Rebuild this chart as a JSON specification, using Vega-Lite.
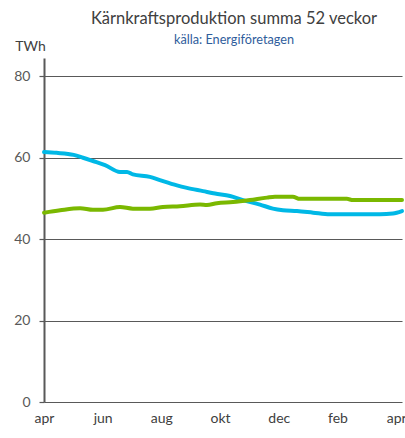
{
  "$schema": "https://vega.github.io/schema/vega-lite/v6.json",
  "autosize": "none",
  "width": 358,
  "height": 344,
  "padding": {"left": 44, "top": 58, "right": 3, "bottom": 36},
  "background": "white",
  "config": {"view": {"stroke": null}, "font": "Lato"},
  "title": {
    "text": "Kärnkraftsproduktion summa 52 veckor",
    "subtitle": "källa: Energiföretagen",
    "anchor": "middle",
    "dx": 11,
    "offset": -8,
    "fontSize": 16.5,
    "fontWeight": "normal",
    "color": "#404040",
    "subtitleFontSize": 12.7,
    "subtitleColor": "#2f5d9c",
    "subtitlePadding": 7,
    "font": "Lato",
    "subtitleFont": "Lato"
  },
  "data": {
    "values": [
      {"m": 0, "s": "blue", "v": 61.4},
      {"m": 0.43, "s": "blue", "v": 61.2},
      {"m": 1.01, "s": "blue", "v": 60.7},
      {"m": 1.33, "s": "blue", "v": 60.0},
      {"m": 1.67, "s": "blue", "v": 59.2},
      {"m": 2.08, "s": "blue", "v": 58.2},
      {"m": 2.59, "s": "blue", "v": 56.5},
      {"m": 2.83, "s": "blue", "v": 56.5},
      {"m": 3.03, "s": "blue", "v": 55.9},
      {"m": 3.61, "s": "blue", "v": 55.3},
      {"m": 3.95, "s": "blue", "v": 54.5},
      {"m": 4.53, "s": "blue", "v": 53.2},
      {"m": 4.87, "s": "blue", "v": 52.6},
      {"m": 5.42, "s": "blue", "v": 51.8},
      {"m": 5.83, "s": "blue", "v": 51.2},
      {"m": 6.34, "s": "blue", "v": 50.6},
      {"m": 6.78, "s": "blue", "v": 49.6},
      {"m": 7.36, "s": "blue", "v": 48.5},
      {"m": 7.8, "s": "blue", "v": 47.5},
      {"m": 8.14, "s": "blue", "v": 47.1},
      {"m": 8.62, "s": "blue", "v": 46.9},
      {"m": 9.17, "s": "blue", "v": 46.5},
      {"m": 9.74, "s": "blue", "v": 46.1},
      {"m": 11.45, "s": "blue", "v": 46.1},
      {"m": 11.89, "s": "blue", "v": 46.3},
      {"m": 12.2, "s": "blue", "v": 46.9},
      {"m": 0, "s": "green", "v": 46.5},
      {"m": 0.55, "s": "green", "v": 47.1},
      {"m": 1.23, "s": "green", "v": 47.6},
      {"m": 1.67, "s": "green", "v": 47.2},
      {"m": 2.01, "s": "green", "v": 47.2},
      {"m": 2.59, "s": "green", "v": 47.9},
      {"m": 3.03, "s": "green", "v": 47.5},
      {"m": 3.61, "s": "green", "v": 47.5},
      {"m": 4.05, "s": "green", "v": 47.9},
      {"m": 4.63, "s": "green", "v": 48.1},
      {"m": 5.32, "s": "green", "v": 48.5},
      {"m": 5.55, "s": "green", "v": 48.4},
      {"m": 5.89, "s": "green", "v": 48.8},
      {"m": 6.44, "s": "green", "v": 49.1},
      {"m": 7.02, "s": "green", "v": 49.6},
      {"m": 7.6, "s": "green", "v": 50.2},
      {"m": 7.87, "s": "green", "v": 50.4},
      {"m": 8.48, "s": "green", "v": 50.4},
      {"m": 8.72, "s": "green", "v": 49.9},
      {"m": 10.32, "s": "green", "v": 49.9},
      {"m": 10.53, "s": "green", "v": 49.6},
      {"m": 12.2, "s": "green", "v": 49.6}
    ]
  },
  "mark": {"type": "line", "strokeWidth": 4, "strokeCap": "round", "strokeJoin": "round", "interpolate": "monotone"},
  "encoding": {
    "x": {
      "field": "m",
      "type": "quantitative",
      "scale": {"domain": [0, 12.2], "nice": false, "zero": false},
      "axis": {
        "title": null,
        "values": [0, 2, 4, 6, 8, 10, 12],
        "labelExpr": "['apr','maj','jun','jul','aug','sep','okt','nov','dec','jan','feb','mar','apr'][datum.value]",
        "grid": false,
        "ticks": false,
        "domain": false,
        "labelFontSize": 14,
        "labelColor": "#404040",
        "labelPadding": 9,
        "labelFlush": false,
        "labelOverlap": false
      }
    },
    "y": {
      "field": "v",
      "type": "quantitative",
      "scale": {"domain": [0, 84.5], "nice": false},
      "axis": {
        "title": "TWh",
        "titleAngle": 0,
        "titleAlign": "center",
        "titleBaseline": "alphabetic",
        "titleX": -14,
        "titleY": -8,
        "titleFontSize": 14,
        "titleFontWeight": "normal",
        "titleColor": "#404040",
        "values": [0, 20, 40, 60, 80],
        "grid": true,
        "gridColor": "#595959",
        "gridWidth": 1.2,
        "gridOpacity": 1,
        "domainColor": "#595959",
        "domainWidth": 2,
        "tickColor": "#595959",
        "tickSize": 5,
        "tickWidth": 1.2,
        "labelFontSize": 14,
        "labelColor": "#595959",
        "labelPadding": 9
      }
    },
    "color": {
      "field": "s",
      "type": "nominal",
      "scale": {"domain": ["blue", "green"], "range": ["#00b8e6", "#7ab800"]},
      "legend": null
    }
  }
}
